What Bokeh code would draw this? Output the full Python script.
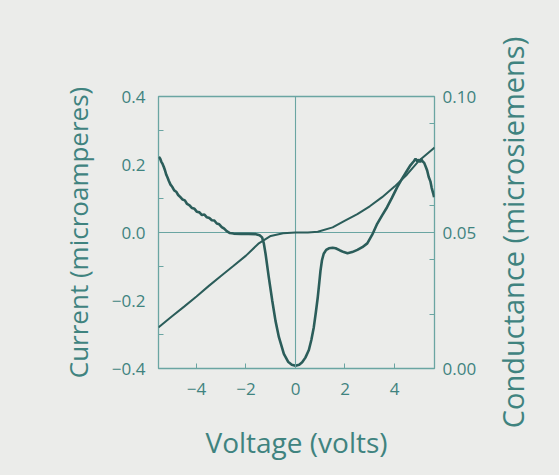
from bokeh.plotting import figure
from bokeh.layouts import row
from bokeh.models import (Range1d, LinearAxis, FixedTicker, ColumnDataSource, Title)
from bokeh.embed import file_html
from bokeh.resources import INLINE

# ---- data ----
voltage_i = [-5.54, -5.0, -4.5, -4.0, -3.5, -3.0, -2.5, -2.0, -1.5, -1.0, -0.5, 0.0,
             0.5, 0.9, 1.5, 2.0, 2.5, 3.0, 3.5, 4.0, 4.5, 5.0, 5.62]
current = [-0.279, -0.247, -0.218, -0.188, -0.157, -0.127, -0.098, -0.068, -0.033, -0.010,
           -0.002, 0.0, 0.0, 0.002, 0.015, 0.035, 0.054, 0.077, 0.104, 0.135, 0.170, 0.212, 0.250]

voltage_g = [-5.52, -5.47, -5.42, -5.37, -5.32, -5.27, -5.22, -5.17, -5.12, -5.05, -4.98, -4.90,
             -4.82, -4.74, -4.65, -4.56, -4.47, -4.38, -4.28, -4.18, -4.08, -3.98, -3.88, -3.78,
             -3.68, -3.58, -3.48, -3.38, -3.28, -3.18, -3.08, -2.98, -2.88, -2.78, -2.65, -2.5,
             -2.2, -1.9, -1.6, -1.45, -1.35, -1.28, -1.21, -1.08, -0.94, -0.81, -0.67, -0.47,
             -0.3, -0.15, 0.0, 0.15, 0.27, 0.40, 0.54, 0.64, 0.74, 0.82, 0.90, 0.96, 1.01, 1.07,
             1.14, 1.24, 1.35, 1.5, 1.62, 1.8, 1.95, 2.1, 2.29, 2.5, 2.7, 2.9, 3.1, 3.3, 3.5, 3.7,
             3.9, 4.11, 4.3, 4.51, 4.65, 4.78, 4.85, 4.92, 4.98, 5.03, 5.08, 5.13, 5.2, 5.27, 5.32,
             5.38, 5.45, 5.5, 5.56, 5.6]
conductance = [0.0778, 0.0772, 0.0760, 0.0752, 0.0741, 0.0728, 0.0712, 0.0702, 0.0690, 0.0676,
               0.0668, 0.0655, 0.0650, 0.0638, 0.0630, 0.0621, 0.0618, 0.0605, 0.0600, 0.0590,
               0.0587, 0.0576, 0.0574, 0.0564, 0.0566, 0.0556, 0.0553, 0.0545, 0.0544, 0.0533,
               0.0530, 0.0520, 0.0514, 0.0505, 0.0498, 0.0496, 0.0495, 0.0495, 0.0494, 0.0490,
               0.0482, 0.0460, 0.0422, 0.0336, 0.0250, 0.0176, 0.0115, 0.0054, 0.0025, 0.0014,
               0.0010, 0.0014, 0.0023, 0.0040, 0.0068, 0.0105, 0.0152, 0.0205, 0.0262, 0.0315,
               0.0360, 0.0398, 0.0422, 0.0436, 0.0442, 0.0444, 0.0442, 0.0434, 0.0428, 0.0424,
               0.0428, 0.0436, 0.0446, 0.0460, 0.0492, 0.0532, 0.0563, 0.0593, 0.0628, 0.0667,
               0.0697, 0.0728, 0.0748, 0.0762, 0.0771, 0.0762, 0.0768, 0.0758, 0.0770, 0.0762,
               0.0756, 0.0740, 0.0728, 0.0705, 0.0688, 0.0665, 0.0645, 0.0630]

x_ticks = [-4, -2, 0, 2, 4]
x_tick_labels = ["\u22124", "\u22122", "0", "2", "4"]
y_ticks = [-0.4, -0.2, 0.0, 0.2, 0.4]
y_tick_labels = ["\u22120.4", "\u22120.2", "0.0", "0.2", "0.4"]
y_minor = [-0.3, -0.1, 0.1, 0.3]
g_ticks = [0.0, 0.05, 0.10]
g_tick_labels = ["0.00", "0.05", "0.10"]
g_minor = [0.02, 0.04, 0.06, 0.09]

# ---- style ----
BG = "#ebecea"
TEXT = "#3f837f"
FRAME = "#6aa5a2"
CURVE = "#2b5d5a"
FONT = "Open Sans"

MAIN_W = 490
TOP, BOTTOM = 96, 107
p = figure(width=MAIN_W, height=475, output_backend="svg", toolbar_location=None,
           x_range=Range1d(-5.535, 5.616), y_range=Range1d(-0.4, 0.4),
           min_border_left=158, min_border_right=MAIN_W - 434, min_border_top=TOP,
           min_border_bottom=BOTTOM)
p.extra_y_ranges = {"g": Range1d(0.0, 0.10)}

p.background_fill_color = BG
p.border_fill_color = BG
p.outline_line_color = FRAME
p.outline_line_width = 1.3

# grid: only zero lines
p.xgrid.ticker = FixedTicker(ticks=[0])
p.ygrid.ticker = FixedTicker(ticks=[0])
for g in (p.xgrid, p.ygrid):
    g.grid_line_color = FRAME
    g.grid_line_width = 1.1

def style_axis(ax, title_size):
    ax.axis_line_color = None
    ax.major_label_text_color = TEXT
    ax.major_label_text_font = FONT
    ax.major_label_text_font_size = "17px"
    ax.axis_label_text_color = TEXT
    ax.axis_label_text_font = FONT
    ax.axis_label_text_font_size = title_size
    ax.axis_label_text_font_style = "normal"
    ax.major_tick_line_color = FRAME
    ax.minor_tick_line_color = FRAME
    ax.major_tick_out = 0
    ax.minor_tick_out = 0

xa = p.xaxis[0]
style_axis(xa, "28px")
xa.ticker = FixedTicker(ticks=x_ticks)
xa.major_label_overrides = dict(zip(x_ticks, x_tick_labels))
xa.major_tick_in = 5
xa.major_label_standoff = 14
xa.axis_label = "Voltage (volts)"
xa.axis_label_standoff = 25

ya = p.yaxis[0]
style_axis(ya, "26px")
ya.ticker = FixedTicker(ticks=y_ticks, minor_ticks=y_minor)
ya.major_label_overrides = dict(zip(y_ticks, y_tick_labels))
ya.major_tick_in = 0
ya.minor_tick_in = 5
ya.major_label_standoff = 13
ya.axis_label = "Current (microamperes)"
ya.axis_label_standoff = 13

ra = LinearAxis(y_range_name="g")
style_axis(ra, "28px")
ra.ticker = FixedTicker(ticks=g_ticks, minor_ticks=g_minor)
ra.major_label_overrides = dict(zip(g_ticks, g_tick_labels))
ra.major_tick_in = 0
ra.minor_tick_in = 5
ra.major_label_standoff = 8
p.add_layout(ra, "right")

src_i = ColumnDataSource(dict(v=voltage_i, i=current))
src_g = ColumnDataSource(dict(v=voltage_g, g=conductance))
p.line("v", "i", source=src_i, line_color=CURVE, line_width=2.0)
p.line("v", "g", source=src_g, line_color=CURVE, line_width=2.6, y_range_name="g")

# narrow strip on the right that carries the conductance title, reading bottom-to-top
p2 = figure(width=559 - MAIN_W, height=475, output_backend="svg", toolbar_location=None,
            x_axis_location=None, y_axis_location=None,
            min_border_left=40, min_border_right=0, min_border_top=TOP, min_border_bottom=BOTTOM)
p2.background_fill_color = BG
p2.border_fill_color = BG
p2.outline_line_color = None
p2.grid.visible = False
p2.add_layout(Title(text="Conductance (microsiemens)", align="center", standoff=0, offset=-10,
                    text_font=FONT, text_font_size="29px", text_font_style="normal",
                    text_color=TEXT), "left")

layout = row(p, p2, spacing=0, styles={"background-color": BG})
open("out.html", "w").write(file_html(layout, INLINE))
